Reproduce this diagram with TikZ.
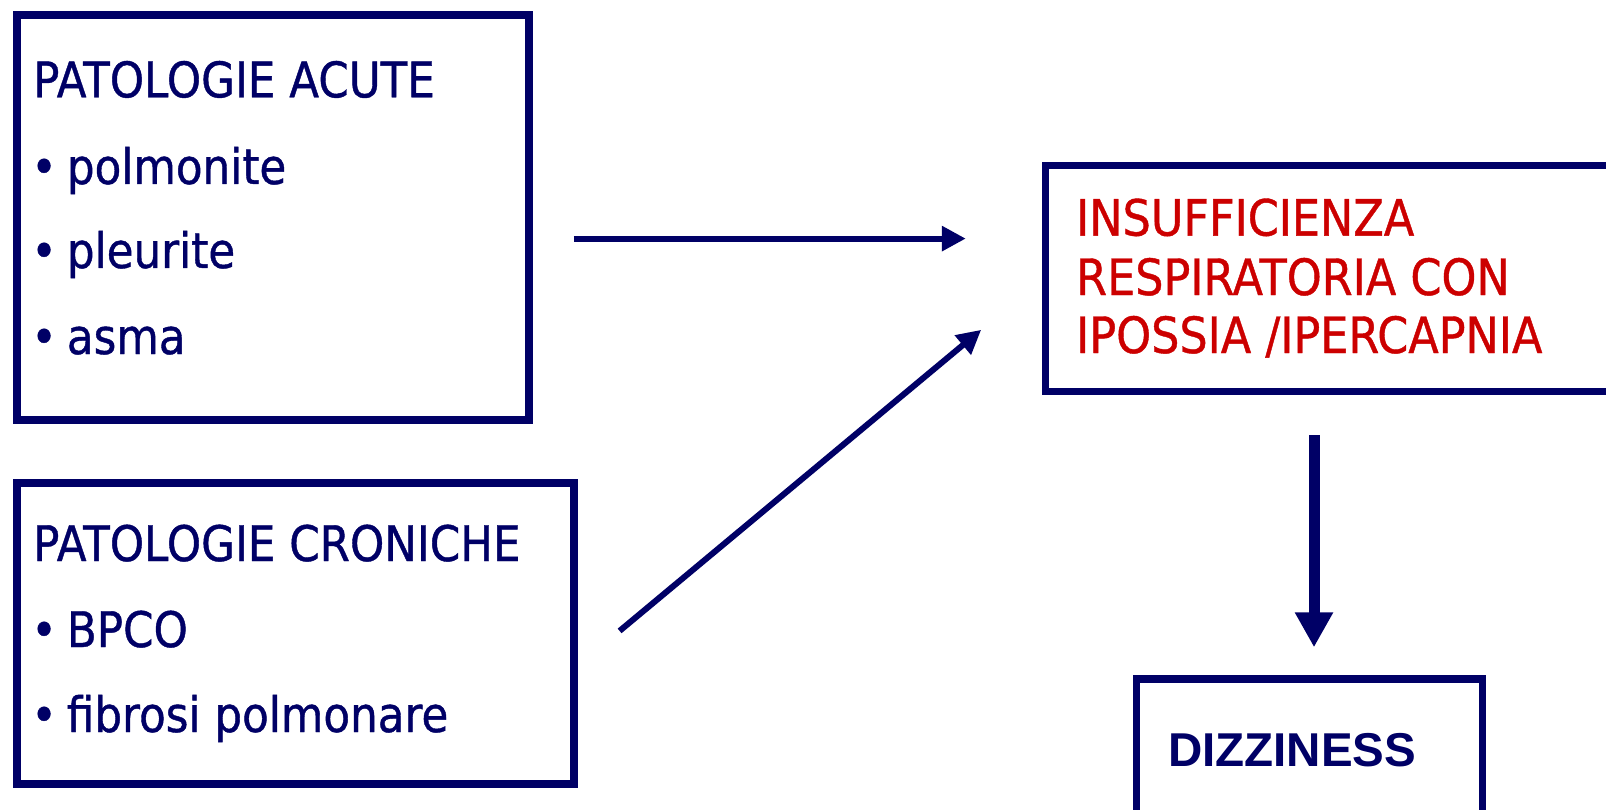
\documentclass[tikz,border=0pt]{standalone}
\usepackage{fontspec}
\setmainfont{DejaVu Sans}[FakeStretch=0.89,FakeBold=0.8]
\newfontfamily\dizfont{Liberation Sans}
\usetikzlibrary{arrows.meta,positioning}
\definecolor{navy}{RGB}{0,0,102}
\definecolor{alarm}{RGB}{204,0,0}
\newcommand{\bul}{•\hspace{10pt}}
\tikzset{
	box/.style={rectangle,draw=navy,line width=7.5pt,inner sep=0,outer sep=0,anchor=north west},
	item/.style={anchor=base west,inner sep=0,text=navy,font=\fontsize{49}{59}\selectfont},
	redline/.style={anchor=base west,inner sep=0,text=alarm,font=\fontsize{50}{59}\selectfont},
	thinarrow/.style={-{Triangle[length=24pt,width=24pt]},draw=navy,line width=6pt},
	fatarrow/.style={-{Triangle[length=35pt,width=36pt]},draw=navy,line width=11pt}
}
\begin{document}
\begin{tikzpicture}[x=1pt,y=-1pt]
		\clip (0,0) rectangle (1606,810);
		\fill[white] (0,0) rectangle (1606,810);
		
		% boxes
		\node[box,minimum width=512pt,minimum height=405pt] (acute) at (17,15.2) {};
		\node[box,minimum width=557pt,minimum height=301pt] (chronic) at (17,483) {};
		\node[box,minimum width=600pt,minimum height=226pt] (insuff) at (1045.5,165.3) {};
		\node[box,minimum width=346pt,minimum height=161.5pt] (dizzy) at (1136.5,678.8) {};
		
		% texts
		\node[item] (acutetitle) at (33,97.3) {PATOLOGIE ACUTE};
		\node[item] (polm) at (31,184) {\bul polmonite};
		\node[item] (pleu) at (31,268) {\bul pleurite};
		\node[item] (asma) at (31,354) {\bul asma};
		
		\node[item] (chrontitle) at (33,561) {PATOLOGIE CRONICHE};
		\node[item] (bpco) at (31,647) {\bul BPCO};
		\node[item] (fibr) at (31,732) {\bul fibrosi polmonare};
		
		\node[redline] (ins1) at (1076,235.6) {INSUFFICIENZA};
		\node[redline] (ins2) at (1076,295) {RESPIRATORIA CON};
		\node[redline] (ins3) at (1076,353) {IPOSSIA /IPERCAPNIA};
		
		\node[anchor=base west,inner sep=0,text=navy,font=\dizfont\bfseries\fontsize{47.5}{56}\selectfont] (dizz) at (1168,766) {DIZZINESS};
		
		% arrows
		\coordinate (h1) at (573.8,238.6);
		\coordinate (h2) at (965.8,238.6);
		\coordinate (d1) at (619.6,630.9);
		\coordinate (d2) at (981.2,329.8);
		\coordinate (v1) at (1314,435.3);
		\coordinate (v2) at (1314,647.3);
		\draw[thinarrow] (h1) -- (h2);
		\draw[thinarrow] (d1) -- (d2);
		\draw[fatarrow] (v1) -- (v2);
	\end{tikzpicture}
\end{document}
